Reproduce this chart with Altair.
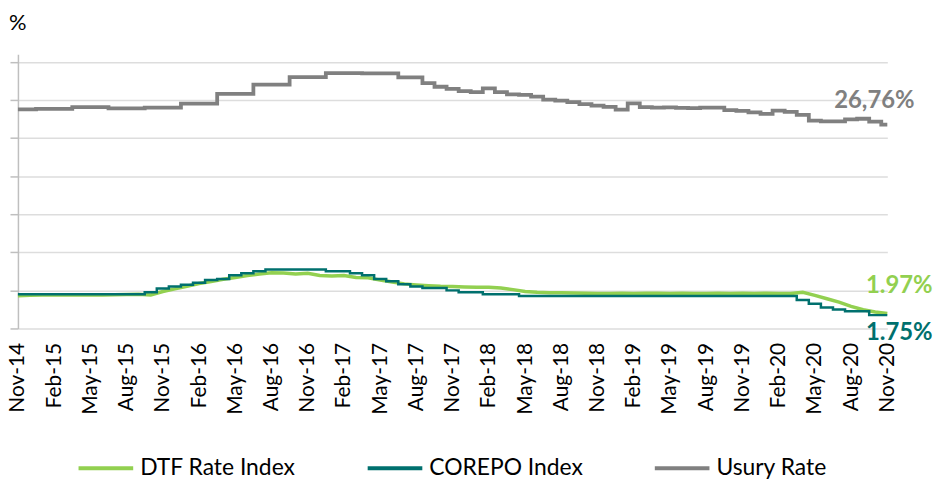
import altair as alt
import pandas as pd

# ---- data (monthly, Nov-14 .. Nov-20) ----
months = list(range(73))
tick_labels = ["Nov-14", "Feb-15", "May-15", "Aug-15", "Nov-15", "Feb-16", "May-16",
               "Aug-16", "Nov-16", "Feb-17", "May-17", "Aug-17", "Nov-17", "Feb-18",
               "May-18", "Aug-18", "Nov-18", "Feb-19", "May-19", "Aug-19", "Nov-19",
               "Feb-20", "May-20", "Aug-20", "Nov-20"]

dtf = [4.30, 4.35, 4.38, 4.38, 4.40, 4.38, 4.40, 4.38, 4.42, 4.45,
       4.48, 4.40, 4.85, 5.20, 5.55, 5.90, 6.15, 6.45, 6.70, 6.95,
       7.15, 7.30, 7.28, 7.15, 7.25, 6.95, 6.90, 6.95, 6.70, 6.65,
       6.35, 6.10, 5.85, 5.72, 5.62, 5.55, 5.52, 5.45, 5.40, 5.42,
       5.30, 5.10, 4.85, 4.75, 4.70, 4.68, 4.65, 4.62, 4.60, 4.60,
       4.62, 4.60, 4.63, 4.62, 4.60, 4.62, 4.60, 4.60, 4.62, 4.60,
       4.62, 4.60, 4.62, 4.60, 4.58, 4.75, 4.35, 3.90, 3.45, 2.90,
       2.45, 2.15, 1.97]

corepo = [4.50, 4.50, 4.50, 4.50, 4.50, 4.50, 4.50, 4.50, 4.50, 4.50,
          4.50, 4.75, 5.25, 5.50, 5.75, 6.00, 6.35, 6.50, 7.00, 7.25,
          7.50, 7.75, 7.75, 7.75, 7.75, 7.75, 7.50, 7.50, 7.25, 7.00,
          6.50, 6.20, 5.80, 5.50, 5.30, 5.30, 5.00, 4.75, 4.75, 4.50,
          4.50, 4.50, 4.25, 4.25, 4.25, 4.25, 4.25, 4.25, 4.25, 4.25,
          4.25, 4.25, 4.25, 4.25, 4.25, 4.25, 4.25, 4.25, 4.25, 4.25,
          4.25, 4.25, 4.25, 4.25, 4.25, 3.75, 3.25, 2.75, 2.50, 2.25,
          2.25, 1.75, 1.75]

usury = [28.76, 28.76, 28.82, 28.82, 28.82, 29.06, 29.06, 29.06, 28.89, 28.89,
         28.89, 29.00, 29.00, 29.00, 29.52, 29.52, 29.52, 30.81, 30.81, 30.81,
         32.01, 32.01, 32.01, 32.99, 32.99, 32.99, 33.51, 33.51, 33.51, 33.50,
         33.50, 33.50, 32.97, 32.97, 32.22, 31.73, 31.44, 31.16, 31.04, 31.52,
         31.02, 30.72, 30.66, 30.42, 30.05, 29.91, 29.72, 29.45, 29.24, 29.10,
         28.74, 29.55, 29.06, 28.98, 29.01, 28.95, 28.92, 28.98, 28.98, 28.65,
         28.55, 28.37, 28.16, 28.59, 28.43, 28.04, 27.29, 27.18, 27.18, 27.44,
         27.53, 27.14, 26.76]

series_names = ["DTF Rate Index", "COREPO Index", "Usury Rate"]
series_colors = ["#92D050", "#00706E", "#808080"]

end_labels = ["1.97%", "1.75%", "26,76%"]
end_values = [1.97, 1.75, 26.76]

y_title = "%"

FONT = "Lato"

df = pd.DataFrame({
    "m": months * 3,
    "value": dtf + corepo + usury,
    "series": [n for n in series_names for _ in months],
})

label_js = "[" + ",".join("'%s'" % t for t in tick_labels) + "]"

x_enc = alt.X("m:Q",
              scale=alt.Scale(domain=[0, 72], nice=False, zero=False),
              axis=alt.Axis(values=list(range(0, 73, 3)),
                            labelExpr=label_js + "[round(datum.value/3)]",
                            labelAngle=270, labelFontSize=21, labelFont=FONT,
                            labelColor="#000000", labelPadding=14,
                            labelOverlap=False, labelBound=False, domain=False,
                            ticks=False, grid=False, title=None))
y_enc = alt.Y("value:Q",
              scale=alt.Scale(domain=[0, 36], nice=False),
              axis=alt.Axis(values=list(range(0, 36, 5)), labels=False,
                            ticks=True, tickSize=8, tickColor="#BFBFBF",
                            tickWidth=1.5, domainColor="#BFBFBF", domainWidth=1.5,
                            grid=True, gridColor="#DDDDDD", gridWidth=1.5,
                            title=None))
color_enc = alt.Color("series:N",
                      scale=alt.Scale(domain=series_names, range=series_colors),
                      legend=alt.Legend(title=None, orient="none", legendX=59,
                                        legendY=387, direction="horizontal"))

base = alt.Chart(df).encode(x=x_enc, y=y_enc, color=color_enc)

dtf_line = base.transform_filter(alt.datum.series == series_names[0]).mark_line(
    strokeWidth=3.5, interpolate="linear")
corepo_line = base.transform_filter(alt.datum.series == series_names[1]).mark_line(
    strokeWidth=2.5, interpolate="step")
usury_line = base.transform_filter(alt.datum.series == series_names[2]).mark_line(
    strokeWidth=3.8, interpolate="step")


def end_text(i, dx, dy):
    d = pd.DataFrame({"m": [72], "value": [end_values[i]], "label": [end_labels[i]]})
    return alt.Chart(d).mark_text(
        font=FONT, fontSize=24, fontWeight="bold", color=series_colors[i],
        align="center", baseline="middle", dx=dx, dy=dy
    ).encode(x=x_enc, y=y_enc, text="label:N")


t_dtf = end_text(0, 12, -28)
t_corepo = end_text(1, 12, 18)
t_usury = end_text(2, -13, -24)

# "%" unit label above the y axis
t_unit = alt.Chart(pd.DataFrame({"t": [y_title]})).mark_text(
    font=FONT, fontSize=22, color="#000000", align="left", baseline="alphabetic"
).encode(x=alt.value(-9), y=alt.value(-24), text="t:N")

chart = alt.layer(dtf_line, corepo_line, usury_line, t_dtf, t_corepo, t_usury,
                  t_unit).properties(
    width=875, height=276,
    autosize=alt.AutoSizeParams(type="none"),
    padding={"left": 10, "top": 45, "right": 48, "bottom": 152},
).configure_view(stroke=None).configure_legend(
    symbolType="stroke", symbolSize=3025, symbolStrokeWidth=4,
    labelFontSize=23, labelFont=FONT, labelColor="#000000",
    columnPadding=64, labelOffset=5,
)

chart.save("out.html", embed_options={"renderer": "svg", "actions": False})
